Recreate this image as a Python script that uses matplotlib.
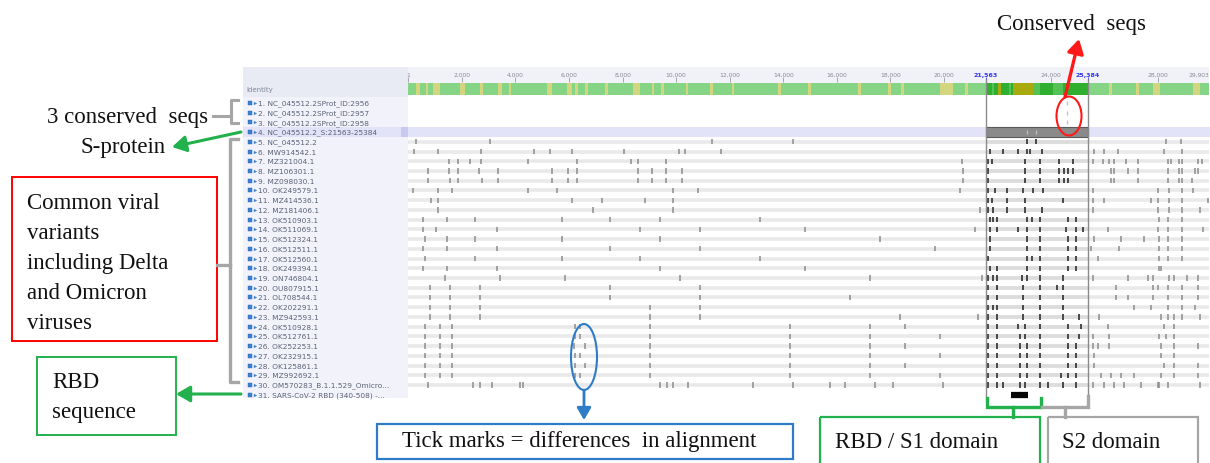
import matplotlib
matplotlib.use("Agg")
import matplotlib.pyplot as plt
from matplotlib.patches import Rectangle, Ellipse, FancyArrowPatch
from matplotlib.transforms import blended_transform_factory

# ---------------- data ----------------
GENOME_LEN = 29903
ruler_positions = [1, 2000, 4000, 6000, 8000, 10000, 12000, 14000, 16000,
                   18000, 20000, 24000, 28000, 29903]
ruler_labels = ["1", "2,000", "4,000", "6,000", "8,000", "10,000", "12,000",
                "14,000", "16,000", "18,000", "20,000", "24,000", "28,000", "29,903"]
s_protein = [21563, 25384]
s_labels = ["21,563", "25,384"]
rbd_span = [22520, 23140]

seq_names = [
    "1. NC_045512.2SProt_ID:2956", "2. NC_045512.2SProt_ID:2957",
    "3. NC_045512.2SProt_ID:2958", "4. NC_045512.2_S:21563-25384",
    "5. NC_045512.2", "6. MW914542.1", "7. MZ321004.1", "8. MZ106301.1",
    "9. MZ098030.1", "10. OK249579.1", "11. MZ414536.1", "12. MZ181406.1",
    "13. OK510903.1", "14. OK511069.1", "15. OK512324.1", "16. OK512511.1",
    "17. OK512560.1", "18. OK249394.1", "19. ON746804.1", "20. OU807915.1",
    "21. OL708544.1", "22. OK202291.1", "23. MZ942593.1", "24. OK510928.1",
    "25. OK512761.1", "26. OK252253.1", "27. OK232915.1", "28. OK125861.1",
    "29. MZ992692.1", "30. OM570283_B.1.1.529_Omicro...",
    "31. SARS-CoV-2 RBD (340-508) -...",
]
conserved_rows = [1, 2, 3]
s_row = 4
first_variant_row = 5
rbd_row = 31
conserved_marks = [24592]
s_row_marks = [23087, 23434]

# difference positions (nt) for rows 5..30
diff_marks = [
    [284, 3047, 11336, 14361, 23087, 23434, 28290, 28875],
    [209, 1105, 2711, 4690, 5287, 6109, 8051, 10104, 10328, 11672, 21717, 22202,
     22762, 23087, 23210, 23658, 25600, 25974, 26497, 28215, 28887],
    [1516, 1852, 2300, 2711, 4466, 6296, 8312, 8574, 9619, 20672, 21642, 21792,
     23024, 23583, 24293, 24816, 25563, 25937, 26161, 26347, 26796, 27244, 28364,
     28476, 28775, 28887, 29484, 29633],
    [732, 1516, 1852, 2636, 3346, 5362, 5960, 6296, 8574, 9096, 9619, 10216,
     20709, 21642, 23024, 23583, 24293, 24479, 24629, 24816, 26235, 26347, 26870,
     27244, 28364, 28775, 28887, 29372, 29484],
    [732, 1553, 1852, 2748, 3346, 5362, 5960, 6296, 8574, 9096, 9619, 10216,
     20709, 21642, 23024, 23583, 24293, 24479, 24629, 26235, 26347, 27244, 28364,
     28775, 28887, 29260],
    [172, 1105, 1628, 4466, 5549, 9880, 10813, 20597, 21642, 21904, 22352, 22949,
     23322, 23696, 25563, 27990, 28402, 28887, 29297],
    [844, 1105, 6109, 7229, 8835, 9880, 21642, 21792, 22352, 23024, 24442, 25563,
     25974, 27729, 27990, 28402, 28887, 29857],
    [1105, 6893, 9880, 21343, 21642, 21829, 22352, 23024, 23658, 25563, 27990,
     28402, 28887, 29559],
    [545, 1441, 2487, 5735, 7528, 9395, 13129, 21717, 21829, 21978, 23098, 23285,
     23583, 24629, 24928, 28028, 28364, 28887],
    [545, 1031, 3308, 8648, 10888, 14809, 21157, 21717, 21978, 22762, 23098, 23583,
     24554, 24928, 25189, 26123, 27990, 28364, 28887, 29671],
    [620, 1441, 2487, 5735, 9395, 17610, 21717, 23098, 23583, 24629, 24928, 25600,
     26609, 27468, 28028, 28364, 28887],
    [545, 1441, 3308, 7528, 10888, 19664, 21717, 23098, 23583, 24629, 24928, 25488,
     26534, 28028, 28364, 28887],
    [620, 2487, 5735, 8648, 13129, 21642, 23098, 23285, 23583, 24629, 24928, 25750,
     28028, 28364, 28887],
    [545, 1441, 3308, 9395, 14809, 21717, 21978, 23098, 23583, 24629, 24928, 28028,
     28103],
    [1367, 3420, 5847, 10141, 17237, 21418, 21642, 21829, 21978, 22912, 23098,
     23583, 24442, 25563, 26870, 27617, 27804, 28402, 28589, 29073, 29484],
    [807, 1553, 2674, 7528, 10888, 21642, 21978, 22949, 23583, 24218, 24442, 26422,
     27804, 27990, 28364, 28887, 29484],
    [807, 1553, 2674, 7528, 10888, 16490, 21642, 21978, 22949, 23583, 24442, 26422,
     26870, 27804, 28364, 28887, 29484],
    [807, 1553, 2674, 9021, 10888, 21642, 21829, 21978, 22949, 23583, 24442, 27094,
     27729, 28364, 28887, 29372],
    [807, 1553, 2674, 9021, 10888, 18357, 21269, 21642, 21978, 22949, 23583, 24442,
     25040, 25787, 28103, 28364, 28589, 28887, 29559],
    [620, 1180, 1628, 6221, 6408, 9021, 14249, 17237, 18544, 21642, 21978, 22762,
     23024, 23583, 24629, 25115, 26123, 28215, 28589],
    [620, 1180, 1628, 6221, 6408, 9021, 14249, 17237, 19850, 21642, 21978, 22837,
     23024, 23583, 24629, 25040, 25563, 26161, 28028, 28290, 28589],
    [620, 1180, 1628, 6184, 6595, 9021, 14249, 17237, 18544, 21642, 21978, 22837,
     23098, 23583, 24629, 24928, 25563, 25750, 26161, 28103, 28589, 29484],
    [620, 1180, 1628, 6221, 6408, 9021, 14249, 17237, 19850, 21642, 21978, 22837,
     23098, 23583, 24629, 24928, 25600, 28103, 28589],
    [620, 1180, 1628, 6221, 6595, 9021, 14249, 17237, 18544, 21642, 21978, 22837,
     23098, 23583, 24629, 24928, 25600, 28215, 28589, 29484],
    [620, 1180, 1628, 6221, 6408, 9021, 14249, 17237, 19850, 21642, 21978, 22837,
     23098, 23583, 24368, 24629, 24928, 25862, 26235, 26609, 27094, 28103, 28589,
     29484],
    [732, 2412, 2674, 3122, 4167, 4279, 9395, 9656, 9880, 10440, 12867, 14361,
     15743, 16303, 17423, 18095, 19962, 21642, 21978, 22202, 22837, 23024, 23583,
     23882, 24442, 24928, 25563, 25974, 26347, 26721, 27356, 27990, 28028, 28364,
     29559],
]

# identity track: low-identity (yellowish) stripes outside S, and within S
identity_low = [(300, 420), (640, 750), (919, 1180), (1927, 2113), (2690, 2800),
                (3360, 3480), (3740, 3850), (5176, 5362), (5922, 6109), (6240, 6350),
                (6610, 6720), (7360, 7470), (8387, 8648), (9080, 9190), (9450, 9560),
                (10350, 10460), (11280, 11390), (12070, 12180), (13820, 13930),
                (14940, 15050), (16810, 16920), (17930, 18040), (18410, 18520),
                (19850, 20335), (20800, 20910), (26180, 26290), (27190, 27300),
                (27804, 28065), (29297, 29559)]
identity_s_olive = [(22040, 22140), (22575, 23322)]
identity_s_light = [(21780, 21880), (22420, 22510), (23322, 23583), (24069, 24442)]

# ---------------- figure ----------------
W, H = 1210, 464
fig = plt.figure(figsize=(W / 100, H / 100), dpi=100)

bg = fig.add_axes([0, 0, 1, 1])
bg.set_xlim(0, W); bg.set_ylim(H, 0); bg.axis("off")

ROW_TOP, ROW_BOT = -3.0, 31.6
ax = fig.add_axes([408.4 / W, 1 - 401.6 / H, (1209 - 408.4) / W, (401.6 - 65) / H], zorder=2)
ax.set_xlim(0, GENOME_LEN); ax.set_ylim(ROW_BOT, ROW_TOP); ax.axis("off")

top = fig.add_axes([0, 0, 1, 1], zorder=3)
top.set_xlim(0, W); top.set_ylim(H, 0); top.axis("off")

trans = blended_transform_factory(bg.transData, ax.transData)

# label column background
bg.add_patch(Rectangle((243, -2.69), 408.4 - 243, ROW_BOT + 2.69 - 0.3,
                       transform=trans, color="#f2f3fa", lw=0))
bg.add_patch(Rectangle((243, -2.69), 408.4 - 243, 3.1,
                       transform=trans, color="#e9ebf4", lw=0))
# S-row highlight band
bg.add_patch(Rectangle((243, s_row - 0.5), W - 243, 1.0,
                       transform=trans, color="#e2e2f8", lw=0))
bg.add_patch(Rectangle((401, s_row - 0.5), 7, 1.0,
                       transform=trans, color="#c8c8f0", lw=0))
bg.text(246, -0.43, "Identity", transform=trans, fontsize=5, color="#8088a0",
        va="center", ha="left")

for i, name in enumerate(seq_names):
    r = i + 1
    bg.plot([250], [r], transform=trans, marker="s", ms=3.2, color="#3d7fd0",
            mec="#2a64b0", mew=0.3)
    bg.plot([254.5], [r], transform=trans, marker=">", ms=2.4, color="#3d7fd0", mew=0)
    bg.text(258, r, name, transform=trans, fontsize=5.3, color="#5c6275",
            va="center", ha="left")

# ruler
ax.add_patch(Rectangle((0, -2.69), GENOME_LEN, 1.6, color="#f1f1f8", lw=0))
for k, (p, lab) in enumerate(zip(ruler_positions, ruler_labels)):
    ax.vlines(p, -1.62, -1.15, color="#9a9aa8", lw=0.6)
    ha = "right" if k == len(ruler_positions) - 1 else "center"
    ax.text(p, -1.95, lab, fontsize=4.3, color="#8a8a98", ha=ha, va="center")
for p, lab in zip(s_protein, s_labels):
    ax.vlines(p, -1.62, -1.15, color="#3333ee", lw=0.6)
    ax.text(p, -1.95, lab, fontsize=4.5, color="#3333ee", ha="center", va="center",
            fontweight="bold")

# identity track
ID_Y, ID_H = -0.43, 1.22
ax.barh(ID_Y, GENOME_LEN, left=0, height=ID_H, color="#86d586", lw=0)
for a, b in identity_low:
    ax.barh(ID_Y, b - a, left=a, height=ID_H, color="#d3d67e", lw=0)
ax.barh(ID_Y, s_protein[1] - s_protein[0], left=s_protein[0], height=ID_H,
        color="#2fae2f", lw=0)
for a, b in identity_s_light:
    ax.barh(ID_Y, b - a, left=a, height=ID_H, color="#55c255", lw=0)
for a, b in identity_s_olive:
    ax.barh(ID_Y, b - a, left=a, height=ID_H, color="#a8aa10", lw=0)

# sequence rows
for r in conserved_rows:
    ax.vlines(conserved_marks, r - 0.2, r + 0.2, color="#c4c4c4", lw=1.0)
ax.barh(s_row, s_protein[1] - s_protein[0], left=s_protein[0], height=1.0,
        color="#8a8a8a", edgecolor="#5a5a5a", lw=0.8)
ax.vlines(s_row_marks, s_row - 0.2, s_row + 0.2, color="#bdbdbd", lw=1.0)

for i, marks in enumerate(diff_marks):
    r = first_variant_row + i
    ax.hlines(r, 0, GENOME_LEN, color="#e9e9e9", lw=2.6)
    ax.hlines(r, s_protein[0], s_protein[1], color="#dcdcdc", lw=2.6)
    inside = [m for m in marks if s_protein[0] <= m <= s_protein[1]]
    outside = [m for m in marks if not (s_protein[0] <= m <= s_protein[1])]
    ax.vlines(outside, r - 0.27, r + 0.27, color="#8c8c8c", lw=1.1)
    ax.vlines(inside, r - 0.27, r + 0.27, color="#3c3c3c", lw=1.3)

ax.hlines(rbd_row, rbd_span[0], rbd_span[1], color="#050505", lw=4.5)

# S-protein box outline
ax.vlines(s_protein, -1.5, 31.3, color="#8a8a8a", lw=1.0)

# ---------------- annotations ----------------
SERIF = "Liberation Serif"
FS = 16.5
TXT = "#111111"

def label(x, y, s, **kw):
    top.text(x, y, s, fontsize=FS, family=SERIF, color=TXT, ha="left",
             va="baseline", **kw)

def arrow(p0, p1, color, lw, ms=14):
    top.add_patch(FancyArrowPatch(p0, p1, arrowstyle="-|>,head_length=0.6,head_width=0.35",
                                  mutation_scale=ms, color=color, lw=lw,
                                  shrinkA=0, shrinkB=0))

# Conserved seqs (top right)
label(997, 30, "Conserved  seqs")
top.add_patch(Ellipse((1069, 117), 25, 39, fill=False, ec="#ff1a1a", lw=1.5))
arrow((1065, 98), (1079, 40), "#ff1a1a", 2.4)

# 3 conserved seqs
label(47, 123, "3 conserved  seqs")
GR = "#a6a6a6"
top.plot([238, 231, 231, 238], [101, 101, 124, 124], color=GR, lw=2.2)
top.plot([213, 231], [117, 117], color=GR, lw=2.2)

# S-protein
label(80, 153, "S-protein")
arrow((241, 133), (172, 148), "#22b14c", 2.2)

# Common variants bracket + box
top.plot([238, 230, 230, 238], [140, 140, 383, 383], color=GR, lw=2.4)
top.plot([217, 230], [266, 266], color=GR, lw=2.4)
top.add_patch(Rectangle((12, 178), 205, 164, fill=False, ec="#ff0000", lw=1.4))
for yb, line in zip([209, 239, 269, 299, 329],
                    ["Common viral", "variants", "including Delta", "and Omicron", "viruses"]):
    label(27, yb, line)

# RBD sequence
top.add_patch(Rectangle((37, 358), 139, 78, fill=False, ec="#22b14c", lw=1.4))
label(52, 388, "RBD")
label(52, 418, "sequence")
arrow((241, 395), (176, 395), "#22b14c", 2.2)

# Tick marks annotation
BL = "#2e7cc6"
top.add_patch(Ellipse((584, 358), 26, 66, fill=False, ec=BL, lw=1.5))
arrow((584, 391), (584, 421), BL, 2.0, ms=12)
top.add_patch(Rectangle((377, 425), 416, 35, fill=False, ec=BL, lw=1.6))
label(402, 447, "Tick marks = differences  in alignment")

# domain brackets and boxes
GN = "#22b14c"
top.plot([987, 987, 1041, 1041], [399, 408, 408, 399], color=GN, lw=2.4,
         solid_joinstyle="miter")
top.plot([1013, 1013], [408, 418], color=GN, lw=2.4)
top.plot([1042, 1088, 1088], [408, 408, 397], color=GR, lw=2.4, solid_joinstyle="miter")
top.plot([1065, 1065], [408, 418], color=GR, lw=2.4)
top.add_patch(Rectangle((820, 418), 220, 60, fill=False, ec=GN, lw=1.6))
top.add_patch(Rectangle((1048, 418), 150, 60, fill=False, ec="#a6a6a6", lw=1.6))
label(835, 448, "RBD / S1 domain")
label(1062, 448, "S2 domain")

fig.savefig("out.png", dpi=100)
